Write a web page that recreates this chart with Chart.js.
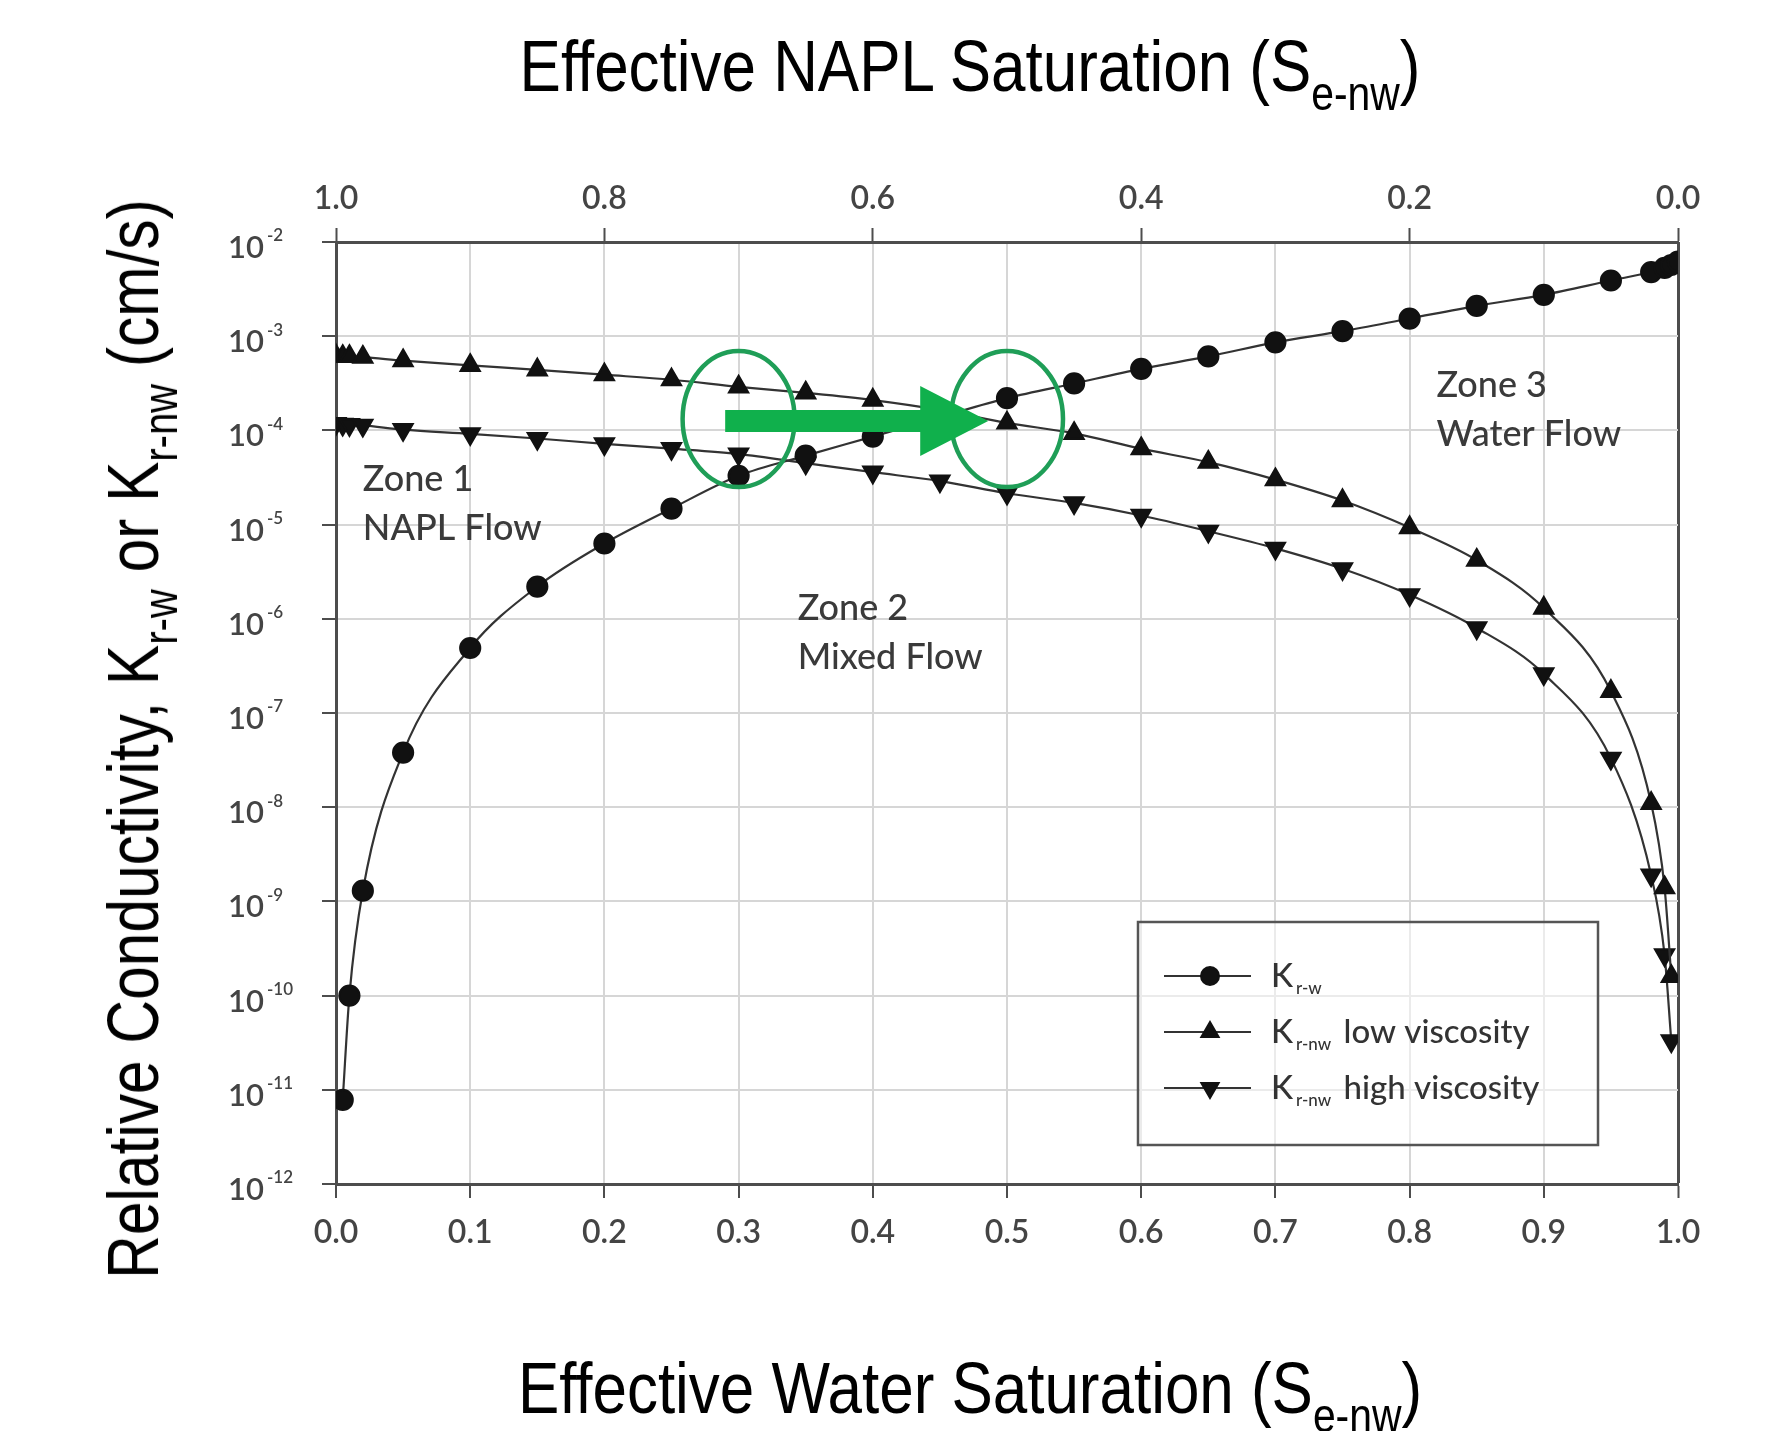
<!DOCTYPE html>
<html>
<head>
<meta charset="utf-8">
<script src="https://cdn.jsdelivr.net/npm/chart.js@4.4.0/dist/chart.umd.min.js"></script>
<style>
  html, body { margin: 0; padding: 0; background: #fff; }
  #wrap { position: relative; width: 1790px; height: 1431px; overflow: hidden; }
  #chart { position: absolute; left: 0; top: 0; }
  .ttl {
    position: absolute;
    font-family: "Liberation Sans", Arial, sans-serif;
    font-size: 72px;
    line-height: 1;
    color: #000;
    white-space: nowrap;
  }
  .ttl sub { font-size: 0.66em; vertical-align: -0.4em; line-height: 0; }
  #ttlTop { left: 970px; top: 66px; transform: translate(-50%, -50%) scaleX(0.86); }
  #ttlBottom { left: 970px; top: 1388px; transform: translate(-50%, -50%) scaleX(0.86); }
  #ttlY { left: 133px; top: 739px; transform: translate(-50%, -50%) rotate(-90deg) scaleX(0.84); }
</style>
</head>
<body>
<div id="wrap">
  <canvas id="chart" width="1790" height="1431"></canvas>
  <div class="ttl" id="ttlTop">Effective NAPL Saturation (S<sub>e-nw</sub>)</div>
  <div class="ttl" id="ttlBottom">Effective Water Saturation (S<sub>e-nw</sub>)</div>
  <div class="ttl" id="ttlY">Relative Conductivity, K<sub>r-w</sub> or K<sub>r-nw</sub> (cm/s)</div>
</div>
<script>
// effective water saturation for each curve
const xW = [0.005, 0.01, 0.02, 0.05, 0.10, 0.15, 0.20, 0.25, 0.30, 0.35, 0.40, 0.45, 0.50,
            0.55, 0.60, 0.65, 0.70, 0.75, 0.80, 0.85, 0.90, 0.95, 0.98, 0.99, 0.995, 1.0];
const krW = [7.8e-12, 1.0e-10, 1.3e-9, 3.8e-8, 4.9e-7, 2.2e-6, 6.3e-6, 1.48e-5, 3.3e-5, 5.4e-5, 8.6e-5, 1.38e-4, 2.2e-4,
             3.15e-4, 4.5e-4, 6.1e-4, 8.6e-4, 1.13e-3, 1.54e-3, 2.1e-3, 2.75e-3, 3.9e-3, 4.8e-3, 5.3e-3, 5.7e-3, 6.2e-3];

const xNw = [0, 0.005, 0.01, 0.02, 0.05, 0.10, 0.15, 0.20, 0.25, 0.30, 0.35, 0.40, 0.45, 0.50,
             0.55, 0.60, 0.65, 0.70, 0.75, 0.80, 0.85, 0.90, 0.95, 0.98, 0.99, 0.995];
const krNwLow = [6.2e-4, 6.1e-4, 6.1e-4, 6.0e-4, 5.5e-4, 4.9e-4, 4.4e-4, 3.9e-4, 3.45e-4, 2.9e-4, 2.5e-4, 2.1e-4, 1.65e-4, 1.2e-4,
                 9.3e-5, 6.4e-5, 4.6e-5, 3.0e-5, 1.8e-5, 9.3e-6, 4.2e-6, 1.3e-6, 1.7e-7, 1.1e-8, 1.4e-9, 1.6e-10];
const krNwHigh = [1.18e-4, 1.16e-4, 1.15e-4, 1.13e-4, 1.02e-4, 9.2e-5, 8.2e-5, 7.2e-5, 6.4e-5, 5.6e-5, 4.5e-5, 3.6e-5, 2.9e-5, 2.15e-5,
                  1.7e-5, 1.25e-5, 8.5e-6, 5.6e-6, 3.4e-6, 1.8e-6, 8e-7, 2.6e-7, 3.3e-8, 1.9e-9, 2.7e-10, 3.3e-11];

// decades shown on the log axis
const yExps = [-12, -11, -10, -9, -8, -7, -6, -5, -4, -3, -2];

// legend text: [main, subscript, rest]
const legendLabels = [
  ['K', 'r-w', ''],
  ['K', 'r-nw', ' low viscosity'],
  ['K', 'r-nw', ' high viscosity']
];

// zone notes, anchored in data units
const zoneLines = [['Zone 1', 'NAPL Flow'], ['Zone 2', 'Mixed Flow'], ['Zone 3', 'Water Flow']];
const zoneX = [0.02, 0.344, 0.82];
const zoneY = [3.0e-5, 1.3e-6, 3.0e-4];

// green highlight rings and arrow
const ringX = [0.3, 0.5];
const ringY = 1.32e-4;
const arrowFrom = 0.29, arrowTo = 0.486, arrowY = 1.26e-4;

const toPts = (xs, ys) => xs.map((x, i) => ({ x: x, y: ys[i] }));

const AXIS = '#4d4d4d';
const GRID = '#d6d6d6';
const LABEL = '#444';

const decorations = {
  id: 'decorations',
  afterDatasetsDraw(chart) {
    const ctx = chart.ctx;
    const xs = chart.scales.x, ys = chart.scales.y;

    // zone notes
    ctx.save();
    ctx.fillStyle = '#3a3a3a';
    ctx.font = '500 36px Lato';
    ctx.textAlign = 'left';
    ctx.textBaseline = 'middle';
    zoneLines.forEach((lines, i) => {
      const px = xs.getPixelForValue(zoneX[i]);
      const py = ys.getPixelForValue(zoneY[i]);
      lines.forEach((t, j) => ctx.fillText(t, px, py + j * 49));
    });
    ctx.restore();

    // legend box
    ctx.save();
    const bx = 1138, by = 922, bw = 460, bh = 223;
    ctx.fillStyle = 'rgba(255,255,255,0.5)';
    ctx.fillRect(bx, by, bw, bh);
    ctx.strokeStyle = '#555';
    ctx.lineWidth = 2.5;
    ctx.strokeRect(bx, by, bw, bh);
    chart.data.datasets.forEach((ds, i) => {
      const ly = by + 54 + i * 56;
      ctx.strokeStyle = ds.borderColor;
      ctx.lineWidth = 2;
      ctx.beginPath();
      ctx.moveTo(bx + 26, ly);
      ctx.lineTo(bx + 113, ly);
      ctx.stroke();
      ctx.fillStyle = ds.pointBackgroundColor;
      ctx.strokeStyle = ds.pointBorderColor;
      Chart.helpers.drawPoint(ctx, {
        pointStyle: ds.pointStyle, rotation: ds.pointRotation || 0,
        radius: ds.pointRadius - 1, borderWidth: 1
      }, bx + 72, ly);
      const lab = legendLabels[i];
      let tx = bx + 133;
      ctx.fillStyle = '#333';
      ctx.textAlign = 'left';
      ctx.textBaseline = 'alphabetic';
      ctx.font = '500 33px Lato';
      ctx.fillText(lab[0], tx, ly + 11);
      tx += ctx.measureText(lab[0]).width + 3;
      ctx.font = '500 17px Lato';
      ctx.fillText(lab[1], tx, ly + 18);
      tx += ctx.measureText(lab[1]).width + 4;
      ctx.font = '500 33px Lato';
      ctx.fillText(lab[2], tx, ly + 11);
    });
    ctx.restore();

    // green rings and arrow
    ctx.save();
    ctx.strokeStyle = '#1f9e57';
    ctx.lineWidth = 4.5;
    const ry = ys.getPixelForValue(ringY);
    ringX.forEach((v) => {
      ctx.beginPath();
      ctx.ellipse(xs.getPixelForValue(v), ry, 56, 68, 0, 0, Math.PI * 2);
      ctx.stroke();
    });
    const x0 = xs.getPixelForValue(arrowFrom);
    const x1 = xs.getPixelForValue(arrowTo);
    const ay = ys.getPixelForValue(arrowY);
    const xh = x1 - 68;
    ctx.fillStyle = '#10b04c';
    ctx.beginPath();
    ctx.moveTo(x0, ay - 11);
    ctx.lineTo(xh, ay - 11);
    ctx.lineTo(xh, ay - 35);
    ctx.lineTo(x1, ay);
    ctx.lineTo(xh, ay + 35);
    ctx.lineTo(xh, ay + 11);
    ctx.lineTo(x0, ay + 11);
    ctx.closePath();
    ctx.fill();
    ctx.restore();
  },
  afterDraw(chart) {
    // y tick labels as 10 with a raised exponent
    const ctx = chart.ctx, ys = chart.scales.y;
    ctx.save();
    ctx.fillStyle = LABEL;
    ctx.textAlign = 'left';
    ctx.textBaseline = 'middle';
    ys.ticks.forEach((t) => {
      const py = ys.getPixelForValue(t.value);
      const e = Math.round(Math.log10(t.value));
      ctx.font = '600 31px Lato';
      ctx.fillText('10', 228, py + 6);
      const w = ctx.measureText('10').width;
      ctx.font = '600 17px Lato';
      ctx.fillText(String(e), 228 + w + 3, py - 6);
    });
    ctx.restore();
  }
};

const isEdge = (c, v) => c.tick && Math.abs(c.tick.value - v) < 1e-9;

new Chart(document.getElementById('chart').getContext('2d'), {
  type: 'line',
  data: {
    datasets: [
      {
        label: 'Kr-w',
        data: toPts(xW, krW),
        borderColor: '#333', borderWidth: 2.2,
        pointStyle: 'circle', pointRadius: 10,
        pointBackgroundColor: '#111', pointBorderColor: '#111',
        cubicInterpolationMode: 'monotone'
      },
      {
        label: 'Kr-nw low viscosity',
        data: toPts(xNw, krNwLow),
        borderColor: '#333', borderWidth: 2.2,
        pointStyle: 'triangle', pointRadius: 11,
        pointBackgroundColor: '#111', pointBorderColor: '#111',
        cubicInterpolationMode: 'monotone'
      },
      {
        label: 'Kr-nw high viscosity',
        data: toPts(xNw, krNwHigh),
        borderColor: '#333', borderWidth: 2.2,
        pointStyle: 'triangle', pointRotation: 180, pointRadius: 11,
        pointBackgroundColor: '#111', pointBorderColor: '#111',
        cubicInterpolationMode: 'monotone'
      }
    ]
  },
  plugins: [decorations],
  options: {
    responsive: false,
    animation: false,
    devicePixelRatio: 1,
    layout: { padding: { left: 0, right: 112, top: 0, bottom: 0 } },
    plugins: { legend: { display: false }, tooltip: { enabled: false } },
    scales: {
      x: {
        type: 'linear', position: 'bottom', min: 0, max: 1,
        afterFit: (s) => { s.height = 247; },
        ticks: {
          stepSize: 0.1, padding: 15, color: LABEL,
          font: { family: 'Lato', size: 32, weight: '600' },
          callback: (v) => Number(v).toFixed(1), maxRotation: 0
        },
        grid: {
          color: (c) => isEdge(c, 1) ? AXIS : GRID,
          lineWidth: (c) => isEdge(c, 1) ? 3 : 2,
          tickColor: AXIS, tickLength: 14, tickWidth: 2
        },
        border: { display: true, color: AXIS, width: 3 }
      },
      x2: {
        type: 'linear', position: 'top', min: 0, max: 1, reverse: true,
        afterFit: (s) => { s.height = 242; },
        ticks: {
          stepSize: 0.2, padding: 10, color: LABEL,
          font: { family: 'Lato', size: 32, weight: '600' },
          callback: (v) => Number(v).toFixed(1), maxRotation: 0
        },
        grid: { drawOnChartArea: false, tickColor: AXIS, tickLength: 14, tickWidth: 2 },
        border: { display: true, color: AXIS, width: 3 }
      },
      y: {
        type: 'logarithmic', position: 'left', min: 1e-12, max: 1e-2,
        afterFit: (s) => { s.width = 336; },
        afterBuildTicks: (s) => { s.ticks = yExps.map((e) => ({ value: Math.pow(10, e) })); },
        ticks: { display: false },
        grid: {
          color: (c) => (c.tick && Math.round(Math.log10(c.tick.value)) === -2) ? AXIS : GRID,
          lineWidth: 2,
          tickColor: AXIS, tickLength: 14, tickWidth: 2
        },
        border: { display: true, color: AXIS, width: 3 }
      }
    }
  }
});
</script>
</body>
</html>
